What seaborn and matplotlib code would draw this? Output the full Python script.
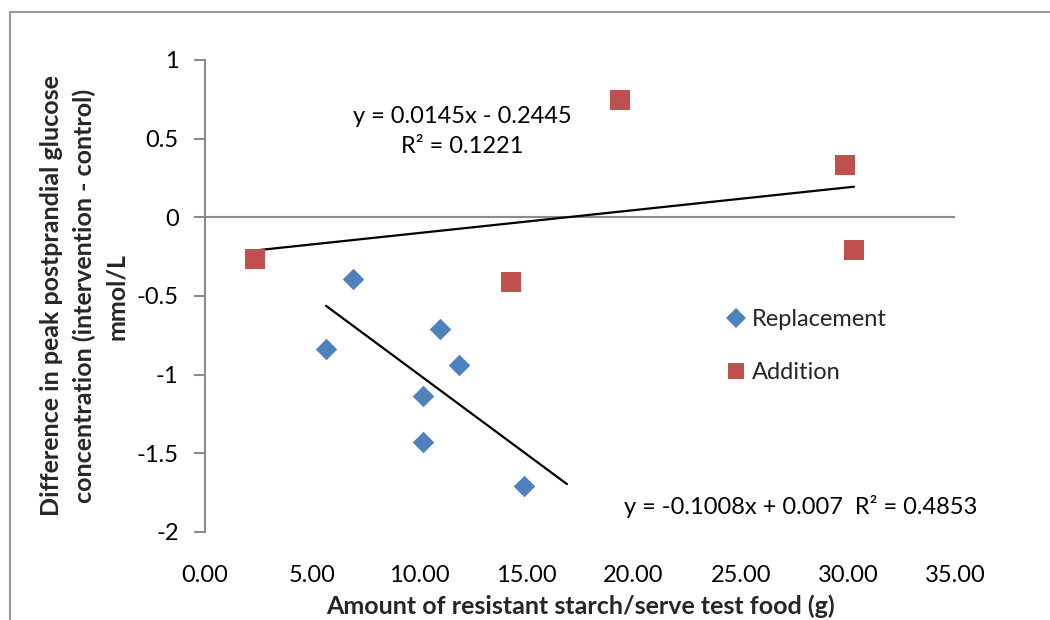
import numpy as np
import pandas as pd
import matplotlib
matplotlib.use("Agg")
import matplotlib.pyplot as plt
from matplotlib.lines import Line2D
import seaborn as sns

# Resistant starch amount (g) vs. difference in peak glucose (mmol/L)
replacement_x = [6.91, 5.65, 10.97, 11.85, 10.17, 10.17, 14.89]
replacement_y = [-0.394, -0.839, -0.712, -0.941, -1.138, -1.430, -1.710]
addition_x = [2.33, 14.28, 19.37, 29.87, 30.29]
addition_y = [-0.267, -0.413, 0.744, 0.331, -0.210]

# Linear trendlines (slope, intercept, R²)
replacement_fit = (-0.1008, 0.007, 0.4853)
addition_fit = (0.0145, -0.2445, 0.1221)
replacement_forecast = 2.0  # trendline extended forward (g)

x_ticks = [0, 5, 10, 15, 20, 25, 30, 35]
y_ticks = [-2, -1.5, -1, -0.5, 0, 0.5, 1]

series_names = ["Replacement", "Addition"]
colors = {"Replacement": "#4F81BD", "Addition": "#C0504D"}

df = pd.DataFrame({
    "amount": replacement_x + addition_x,
    "diff": replacement_y + addition_y,
    "group": ["Replacement"] * len(replacement_x) + ["Addition"] * len(addition_x),
})

sns.set_theme(style="white")
plt.rcParams["font.family"] = ["Lato", "DejaVu Sans"]
FS = 17
FS_LABEL = 18

W, H = 1050, 620
fig = plt.figure(figsize=(W / 100, H / 100), dpi=100)
ax = fig.add_axes([205 / W, 1 - 532 / H, 750 / W, 472 / H])

sns.scatterplot(data=df[df.group == "Replacement"], x="amount", y="diff",
                marker="D", s=120, color=colors["Replacement"], linewidth=0,
                ax=ax, legend=False, zorder=3)
sns.scatterplot(data=df[df.group == "Addition"], x="amount", y="diff",
                marker="s", s=200, color=colors["Addition"], linewidth=0,
                ax=ax, legend=False, zorder=3)

# Trendlines
m, b, r2a = addition_fit
xa = np.array([min(addition_x), max(addition_x)])
ax.plot(xa, m * xa + b, color="black", lw=1.6, zorder=2)
m2, b2, r2r = replacement_fit
xr = np.array([min(replacement_x), max(replacement_x) + replacement_forecast])
ax.plot(xr, m2 * xr + b2, color="black", lw=1.6, zorder=2)

ax.text(12.0, 0.642, f"y = {m:.4f}x - {abs(b):.4f}", ha="center", va="center",
        fontsize=FS, color="black")
ax.text(12.0, 0.451, f"R² = {r2a:.4f}", ha="center", va="center",
        fontsize=FS, color="black")
ax.text(27.8, -1.837, f"y = {m2:.4f}x + {b2:.3f}  R² = {r2r:.4f}",
        ha="center", va="center", fontsize=FS, color="black", clip_on=False)

# Axes styling
ax.set_xlim(0, 35)
ax.set_ylim(-2, 1)
ax.set_xticks(x_ticks)
ax.set_xticklabels([f"{v:.2f}" for v in x_ticks])
ax.set_yticks(y_ticks)
ax.set_yticklabels([f"{v:g}" for v in y_ticks])
ax.axhline(0, color="#8c8c8c", lw=1.5, zorder=1)
for s in ["top", "right", "bottom"]:
    ax.spines[s].set_visible(False)
ax.spines["left"].set_color("#8c8c8c")
ax.spines["left"].set_linewidth(1.5)
ax.tick_params(axis="y", which="major", left=True, length=8, width=1.5,
               color="#8c8c8c", pad=11, labelsize=FS, labelcolor="black")
ax.tick_params(axis="x", which="major", bottom=True, length=0, pad=24,
               labelsize=FS, labelcolor="black")
ax.grid(False)
ax.set_facecolor("white")

ax.set_xlabel("Amount of resistant starch/serve test food (g)", fontsize=FS_LABEL,
              fontweight="bold", labelpad=6)
ax.set_ylabel("Difference in peak postprandial glucose\n"
              "concentration (intervention - control)\nmmol/L",
              fontsize=FS_LABEL, fontweight="bold", labelpad=6, linespacing=1.5)

handles = [
    Line2D([], [], marker="D", linestyle="none", markersize=10.5,
           markerfacecolor=colors["Replacement"], markeredgewidth=0),
    Line2D([], [], marker="s", linestyle="none", markersize=12,
           markerfacecolor=colors["Addition"], markeredgewidth=0),
]
fig.legend(handles, series_names, loc="center left",
           bbox_to_anchor=(712 / W, 1 - 346 / H), frameon=False, fontsize=FS,
           borderpad=0, handlelength=1.0, handletextpad=0.2, labelspacing=1.35)

# Chart frame
frame_kw = dict(color="#9a9a9a", lw=1.5, transform=fig.transFigure)
fig.add_artist(Line2D([10 / W, 10 / W], [1 - 12 / H, 0], **frame_kw))
fig.add_artist(Line2D([10 / W, 1], [1 - 12 / H, 1 - 12 / H], **frame_kw))

fig.savefig("out.png", dpi=100, facecolor="white")
